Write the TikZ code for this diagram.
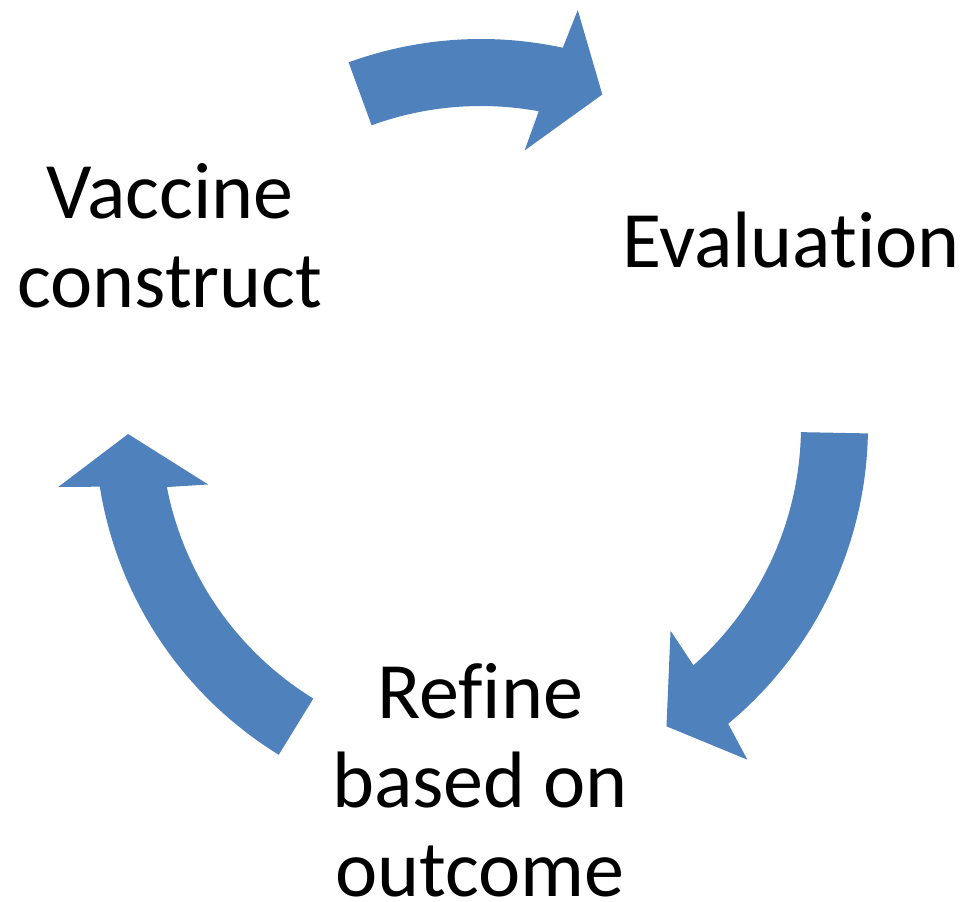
\documentclass[tikz,border=0pt]{standalone}
\usepackage{fontspec}
\setmainfont{Carlito}[Ligatures=NoCommon]
\usepackage[]{xcolor}
\usetikzlibrary{positioning}
\definecolor{cycblue}{HTML}{4F81BD}
\tikzset{cycarrow/.style = {fill=cycblue, draw=none}}
\tikzset{steptext/.style = {font=\fontsize{80}{89}\selectfont, align=center, anchor=base, inner sep=0}}

\begin{document}
\begin{tikzpicture}[x=1pt,y=1pt]
        \useasboundingbox (-481,-476) rectangle (489,426);
        \fill [cycarrow] (110:387) arc [start angle=110, end angle=77.8, radius=387] -- (76.9:427) -- (69.9:353) -- (81:279) -- (79.6:320) arc [start angle=79.6, end angle=110, radius=320] -- cycle;
        \fill [cycarrow] (-1.1:387) arc [start angle=-1.1, end angle=-50.3, radius=387] -- (-51.4:427) -- (-58.3:353) -- (-47.2:279) -- (-48.4:320) arc [start angle=-48.4, end angle=-1.1, radius=320] -- cycle;
        \fill [cycarrow] (238.4:386) arc [start angle=238.4, end angle=189.05, radius=386] -- (188.2:427) -- (181.3:353) -- (192.1:279) -- (191:320) arc [start angle=191, end angle=238.4, radius=320] -- cycle;
        \node [steptext] (construct) at (-311,118) {Vaccine\\construct};
        \node [steptext] (evaluation) at (310,158) {Evaluation};
        \node [steptext, text depth=0pt] (refine) at (-1,-470) {Refine\\based on\\outcome};
    \end{tikzpicture}
\end{document}
